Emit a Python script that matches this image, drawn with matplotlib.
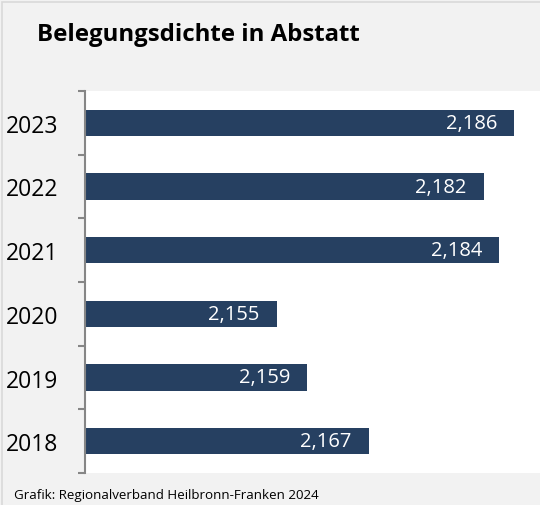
import matplotlib.pyplot as plt
from matplotlib.patches import Rectangle

# Belegungsdichte (Personen je Wohnung), Abstatt
YEARS = ["2018", "2019", "2020", "2021", "2022", "2023"]
VALUES = [2.167, 2.159, 2.155, 2.184, 2.182, 2.186]
TITLE = "Belegungsdichte in Abstatt"
SOURCE = "Grafik: Regionalverband Heilbronn-Franken 2024"

BAR_COLOR = "#264061"
BG_COLOR = "#f2f2f2"
FONT = ["Open Sans", "DejaVu Sans"]

W, H = 540, 506
plt.rcParams["font.family"] = FONT

fig = plt.figure(figsize=(W / 100, H / 100), dpi=100, facecolor=BG_COLOR)

# light outer frame of the chart (cropped on the right / bottom)
fig.patches.append(Rectangle((2 / W, -0.02), 1.1, 1 - 3 / H + 0.02,
                             transform=fig.transFigure, fill=False,
                             edgecolor="#d9d9d9", linewidth=1.2))

# plot area in pixel coordinates
left, right, top, bottom = 85, 545, 92, 474
ax = fig.add_axes([left / W, (H - bottom) / H, (right - left) / W, (bottom - top) / H])
ax.set_facecolor("white")

pos = list(range(len(YEARS)))
ax.barh(pos, VALUES, height=0.41, color=BAR_COLOR, left=0)
ax.set_xlim(2.13, 2.19)
ax.set_ylim(-0.5, len(YEARS) - 0.5)

for y, v in zip(pos, VALUES):
    ax.annotate(f"{v:.3f}".replace(".", ","), xy=(v, y), xytext=(-17, 0),
                textcoords="offset pixels", ha="right", va="center",
                color="white", fontsize=14.5)

for side in ("top", "right", "bottom"):
    ax.spines[side].set_visible(False)
ax.spines["left"].set_color("#868686")
ax.spines["left"].set_linewidth(1.5)
ax.xaxis.set_visible(False)

ax.set_yticks(pos)
ax.set_yticklabels(YEARS, fontsize=16.5)
ax.tick_params(axis="y", which="major", length=0, pad=19)
ax.set_yticks([p - 0.5 for p in pos] + [pos[-1] + 0.5], minor=True)
ax.tick_params(axis="y", which="minor", length=5, width=1.5, color="#868686")

fig.text(37 / W, 1 - 35 / H, TITLE, fontsize=17.3, fontweight="bold",
         ha="left", va="center")
fig.text(14 / W, 1 - 496 / H, SOURCE, fontsize=9.6, ha="left", va="center")

fig.savefig("out.png", dpi=100, facecolor=BG_COLOR)
